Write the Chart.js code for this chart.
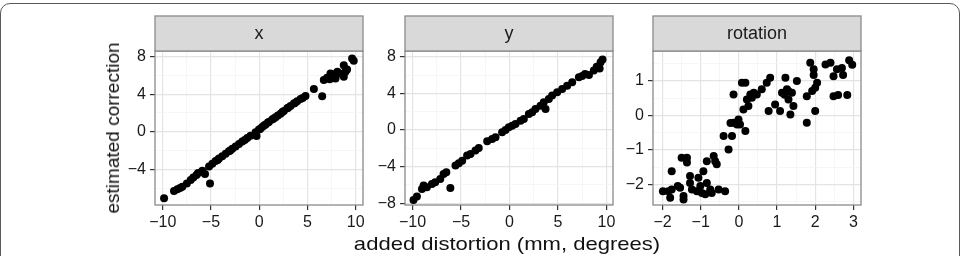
<!DOCTYPE html>
<html>
<head>
<meta charset="utf-8">
<script src="https://cdn.jsdelivr.net/npm/chart.js@4.4.1/dist/chart.umd.min.js"></script>
<style>
  html, body { margin: 0; padding: 0; background: #fff; }
  #wrap { position: relative; width: 963px; height: 256px; overflow: hidden; background: #fff; }
  #frame { position: absolute; left: 0px; top: 3px; width: 958px; height: 300px; border: 1.5px solid #5a5a5a; border-radius: 10px; box-sizing: content-box; }
  canvas { position: absolute; left: 0; top: 0; }
  .atitle { position: absolute; font-family: "Liberation Sans", Arial, sans-serif; font-size: 19px; color: #111; white-space: nowrap; }
  #xtitle { left: 507px; top: 244px; transform: translate(-50%, -50%) scaleX(1.16); }
  #ytitle { left: 113px; top: 128px; transform: translate(-50%, -50%) rotate(-90deg); }
</style>
</head>
<body>
<div id="wrap">
  <div id="frame"></div>
  <canvas id="c1" width="963" height="256"></canvas>
  <canvas id="c2" width="963" height="256"></canvas>
  <canvas id="c3" width="963" height="256"></canvas>
  <div class="atitle" id="xtitle">added distortion (mm, degrees)</div>
  <div class="atitle" id="ytitle">estimated correction</div>
</div>
<script>
// ---------- data ----------
const panelTitles = ['x', 'y', 'rotation'];
const xAxisTitle = 'added distortion (mm, degrees)';
const yAxisTitle = 'estimated correction';

// panel "x": added distortion vs estimated correction
const xAdded = [-9.86,-8.83,-8.48,-8.2,-7.97,-7.5,-7.1,-6.83,-6.5,-6.34,-5.9,-5.62,-5.2,-5.1,-4.86,-4.52,-4.3,-4.17,-3.83,-3.48,-3.14,-3.0,-2.79,-2.45,-2.1,-1.76,-1.5,-1.24,-0.9,-0.38,-0.28,-0.03,0.1,0.31,0.5,0.66,0.9,1.0,1.34,1.5,1.69,1.93,2.21,2.4,2.55,2.9,3.0,3.24,3.59,3.7,3.93,4.28,4.5,4.79,5.66,6.52,6.69,7.03,7.3,7.38,7.72,7.9,8.1,8.34,8.76,8.76,8.93,9.1,9.62,9.79];
const xEstimated = [-7.09,-6.31,-6.13,-6.0,-5.85,-5.5,-5.14,-4.86,-4.6,-4.4,-4.15,-4.5,-3.7,-5.5,-3.4,-3.12,-3.0,-2.85,-2.6,-2.35,-2.08,-2.0,-1.82,-1.56,-1.3,-1.05,-0.88,-0.66,-0.42,-0.05,-0.45,0.25,0.3,0.5,0.66,0.78,0.98,1.05,1.3,1.4,1.55,1.72,1.93,2.1,2.2,2.5,2.55,2.75,3.0,3.05,3.25,3.5,3.6,3.8,4.54,3.79,5.5,5.74,5.6,6.2,6.13,5.67,6.4,6.2,7.09,5.85,6.38,6.63,7.8,7.55];

// panel "y"
const yAdded = [-9.9,-9.55,-9.03,-8.86,-8.52,-8.0,-7.66,-7.14,-6.8,-6.52,-6.1,-5.57,-5.23,-4.88,-4.37,-4.02,-3.51,-3.17,-2.3,-1.79,-1.44,-0.76,-0.41,-0.07,0.28,0.62,1.14,1.48,2.0,2.34,2.68,3.2,3.54,3.72,4.06,4.4,4.92,5.44,5.95,6.47,7.16,7.5,7.8,8.2,8.7,9.0,9.3,9.4,9.6];
const yEstimated = [-7.64,-7.27,-6.44,-6.07,-6.25,-5.89,-5.71,-5.35,-4.8,-4.62,-6.33,-3.89,-3.64,-3.35,-2.8,-2.62,-2.25,-1.96,-1.24,-0.98,-0.8,-0.25,0.0,0.29,0.47,0.65,1.02,1.2,1.75,1.93,2.29,2.65,3.02,2.29,3.38,3.75,4.11,4.47,4.84,5.2,5.75,5.9,6.1,6.0,6.5,6.9,6.7,7.4,7.7];

// panel "rotation" (degrees)
const rotAdded = [-1.99,-1.85,-1.76,-1.76,-1.8,-1.54,-1.6,-1.5,-1.36,-1.36,-1.45,-1.45,-1.28,-1.28,-1.23,-1.1,-1.06,-1.01,-0.97,-0.93,-0.88,-0.84,-0.84,-0.75,-0.71,-0.66,-0.58,-0.62,-0.53,-0.36,-0.4,-0.27,-0.18,-0.14,-0.22,-0.05,-0.14,-0.01,0.03,0.08,0.17,0.12,0.17,0.21,0.25,0.3,0.34,0.39,0.47,0.6,0.73,0.82,0.78,0.95,1.08,1.13,1.2,1.22,1.26,1.3,1.3,1.35,1.39,1.43,1.52,1.78,1.78,1.87,1.92,1.96,1.96,2.0,2.0,2.05,2.27,2.4,2.48,2.48,2.57,2.6,2.7,2.73,2.84,2.89,2.97];
const rotEstimated = [-2.2,-2.2,-2.15,-1.62,-2.39,-2.1,-2.05,-1.23,-1.23,-1.37,-2.34,-2.44,-1.96,-1.76,-2.15,-2.2,-1.81,-2.05,-2.25,-1.62,-2.29,-1.33,-1.96,-2.15,-2.25,-1.18,-1.42,-1.33,-2.15,-2.2,-0.6,-0.99,-0.6,-0.21,-0.22,-0.26,0.61,-0.12,-0.26,0.95,0.95,0.17,-0.45,0.46,0.27,0.61,0.51,0.66,0.61,0.76,0.95,1.09,0.13,0.32,0.13,0.66,0.6,1.09,0.76,0.46,0.7,0.03,0.66,0.27,1.0,0.56,-0.21,1.53,0.71,1.34,1.17,0.13,0.8,0.95,1.48,1.53,1.14,0.56,1.34,0.59,1.38,1.17,0.59,1.6,1.47];

// tick labels (major) and minor grid positions
const mmMajorTicks = [-10, -5, 0, 5, 10];
const mmMinorTicks = [-7.5, -2.5, 2.5, 7.5];
const xEstMajorTicks = [-4, 0, 4, 8];
const xEstMinorTicks = [-6, -2, 2, 6];
const yEstMajorTicks = [-8, -4, 0, 4, 8];
const yEstMinorTicks = [-6, -2, 2, 6];
const rotAddMajorTicks = [-2, -1, 0, 1, 2, 3];
const rotAddMinorTicks = [-1.5, -0.5, 0.5, 1.5, 2.5];
const rotEstMajorTicks = [-2, -1, 0, 1];
const rotEstMinorTicks = [-2.5, -1.5, -0.5, 0.5, 1.5];

// ---------- layout / style ----------
const FONT = '"Liberation Sans", Arial, sans-serif';
const STRIP_TOP = 16, PANEL_TOP = 51, PANEL_BOTTOM = 205;
const Y_AXIS_W = 44, X_AXIS_H = 30;
const W = 963, H = 256;

function fmt(v) { return String(v).replace('-', '\u2212'); }

function makePanel(canvasId, title, xs, ys, left, right, xr, yr, xMaj, xMin, yMaj, yMin) {
  const pts = xs.map((x, i) => ({ x: x, y: ys[i] }));
  const isMaj = (arr, v) => arr.some(a => Math.abs(a - v) < 1e-9);
  const panelPlugin = {
    id: 'panelDeco',
    afterDatasetsDraw(chart) {
      const ca = chart.chartArea, ctx = chart.ctx;
      ctx.save();
      ctx.strokeStyle = '#8a8a8a';
      ctx.lineWidth = 1.3;
      ctx.strokeRect(ca.left, ca.top, ca.right - ca.left, ca.bottom - ca.top);
      ctx.fillStyle = '#d9d9d9';
      ctx.fillRect(ca.left, STRIP_TOP, ca.right - ca.left, ca.top - STRIP_TOP);
      ctx.strokeRect(ca.left, STRIP_TOP, ca.right - ca.left, ca.top - STRIP_TOP);
      ctx.fillStyle = '#1a1a1a';
      ctx.font = '18px ' + FONT;
      ctx.textAlign = 'center';
      ctx.textBaseline = 'middle';
      ctx.fillText(title, (ca.left + ca.right) / 2, (STRIP_TOP + ca.top) / 2 + 1);
      ctx.restore();
    }
  };
  const axisCommon = (maj, min, isX) => ({
    type: 'linear',
    afterBuildTicks(scale) {
      scale.ticks = maj.concat(min).sort((a, b) => a - b).map(v => ({ value: v }));
    },
    afterFit(scale) {
      if (isX) { scale.height = X_AXIS_H; } else { scale.width = Y_AXIS_W; }
      scale.paddingLeft = 0; scale.paddingRight = 0; scale.paddingTop = 0; scale.paddingBottom = 0;
    },
    border: { display: false },
    grid: {
      color: c => isMaj(maj, c.tick.value) ? '#e4e4e4' : '#f2f2f2',
      lineWidth: c => isMaj(maj, c.tick.value) ? 1.2 : 0.7,
      tickColor: c => isMaj(maj, c.tick.value) ? '#333333' : 'rgba(0,0,0,0)',
      tickLength: 5,
      tickWidth: 1.2,
      drawTicks: true
    },
    ticks: {
      autoSkip: false,
      maxRotation: 0,
      minRotation: 0,
      padding: isX ? 3 : 4,
      color: '#1a1a1a',
      font: { family: FONT, size: 16 },
      callback: v => isMaj(maj, v) ? fmt(v) : ''
    }
  });
  const xOpt = Object.assign(axisCommon(xMaj, xMin, true), { min: xr[0], max: xr[1], position: 'bottom' });
  const yOpt = Object.assign(axisCommon(yMaj, yMin, false), { min: yr[0], max: yr[1], position: 'left' });
  return new Chart(document.getElementById(canvasId), {
    type: 'scatter',
    data: { datasets: [{ data: pts, backgroundColor: '#000', borderColor: '#000', pointRadius: 4, pointBorderWidth: 0, pointHoverRadius: 4 }] },
    options: {
      responsive: false,
      animation: false,
      events: [],
      layout: { padding: { left: left - Y_AXIS_W, right: W - right, top: PANEL_TOP, bottom: H - PANEL_BOTTOM - X_AXIS_H } },
      plugins: { legend: { display: false }, tooltip: { enabled: false }, title: { display: false } },
      scales: { x: xOpt, y: yOpt }
    },
    plugins: [panelPlugin]
  });
}

makePanel('c1', panelTitles[0], xAdded, xEstimated, 155, 363, [-10.8, 10.75], [-7.8, 8.6], mmMajorTicks, mmMinorTicks, xEstMajorTicks, xEstMinorTicks);
makePanel('c2', panelTitles[1], yAdded, yEstimated, 405, 613, [-10.78, 10.68], [-8.19, 8.62], mmMajorTicks, mmMinorTicks, yEstMajorTicks, yEstMinorTicks);
makePanel('c3', panelTitles[2], rotAdded, rotEstimated, 653, 861, [-2.25, 3.2], [-2.6, 1.87], rotAddMajorTicks, rotAddMinorTicks, rotEstMajorTicks, rotEstMinorTicks);

document.getElementById('xtitle').textContent = xAxisTitle;
document.getElementById('ytitle').textContent = yAxisTitle;
</script>
</body>
</html>
